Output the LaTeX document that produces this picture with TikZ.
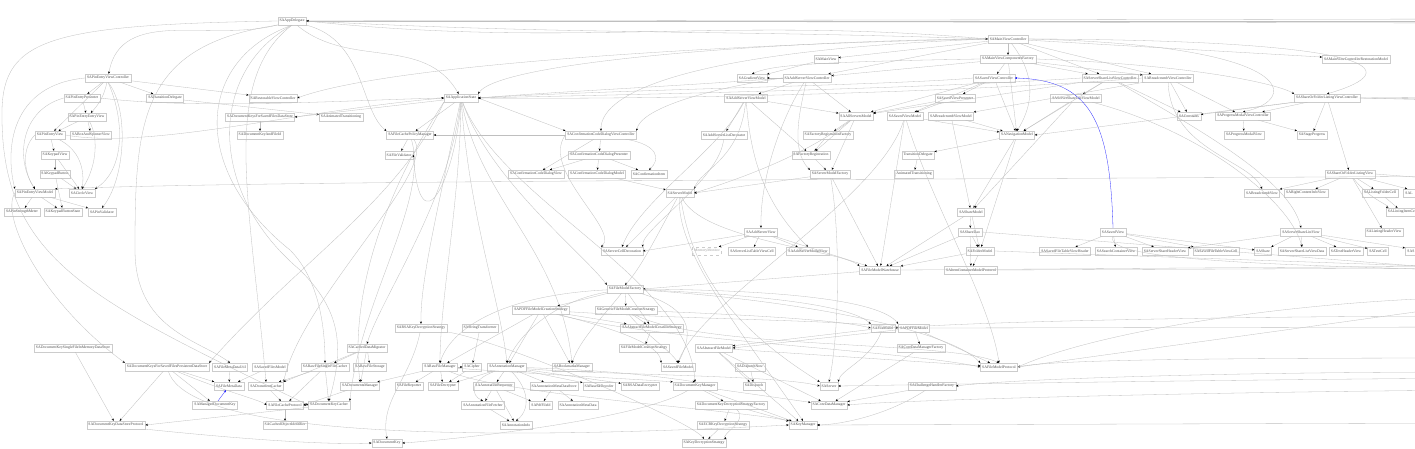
\documentclass[tikz,border=0pt]{standalone}
\usepackage{fontspec}
\setmainfont{Liberation Serif}
\usetikzlibrary{arrows.meta}
\tikzset{
  box/.style={draw=gray!40, line width=0.3pt, font=\fontsize{3.8}{4}\selectfont, text=black!70, inner xsep=1.8pt, inner ysep=0pt, minimum height=8pt},
  dbox/.style={box, dashed, draw=gray!40, text=gray!75},
  e/.style={draw=gray!50, line width=0.3pt, -{Stealth[length=2.4pt,width=2pt,color=black]}},
  bb/.style={e, -{Stealth[length=2.4pt,width=2pt,color=blue]}, {Stealth[length=2.4pt,width=2pt,color=blue]}-, draw=blue!85}
}
\begin{document}
\begin{tikzpicture}[x=1pt,y=-1pt]
\useasboundingbox (0,0) rectangle (1415,449);
\fill[white] (0,0) rectangle (1415,449);
\clip (0,0) rectangle (1415,449);
% ---------- nodes ----------
\node[box] (AD) at (292,21) {SAAppDelegate};
\node[box] (MVC) at (1008,39) {SAMainViewController};
\node[box] (MV) at (826,59) {SAMainView};
\node[box] (MVCF) at (1008,59) {SAMainViewComponentsFactory};
\node[box] (MVCRM) at (1356,59) {SAMainViewControllerRestorationModel};
\node[box] (GV) at (752,78) {SAGradientView};
\node[box] (ASVC) at (807,78) {SAAddServerViewController};
\node[box] (SVC) at (994,78) {SASavedViewController};
\node[box] (SSLVC) at (1110,78) {SAServerShareListViewController};
\node[box] (BVC) at (1168,78) {SABreadcrumbViewController};
\node[box] (PEVC) at (108,78) {SAPinEntryViewController};
\node[box] (PEP) at (82,98) {SAPinEntryPresenter};
\node[box] (TD) at (165,98) {SATransitionDelegate};
\node[box] (RVC) at (273,98) {SARestorableViewController};
\node[box] (AS) at (461,98) {SAApplicationState};
\node[box] (ASVM) at (746,98) {SAAddServerViewModel};
\node[box] (SVP) at (955,98) {SASavedViewPresenter};
\node[box] (SSLVM) at (1076,98) {SAServerShareListViewModel};
\node[box] (SOFLVC) at (1327,98) {SAShareOrFolderListingViewController};
\node[box] (PEEV) at (87,117) {SAPinEntryEntryView};
\node[box] (DKSFDS) at (260,117) {SADocumentKeysForSavedFilesDataStore};
\node[box] (AT) at (341,117) {SAAnimatedTransitioning};
\node[box] (ALSM) at (856,116) {SAAllServersModel};
\node[box] (SVM) at (905,116) {SASavedViewModel};
\node[box] (BVM) at (951,116) {SABreadcrumbViewModel};
\node[box] (CONST) at (1189,116) {SAConstants};
\node[box] (PMVC) at (1243,116) {SAProgressModalViewController};
\node[box] (PEV) at (50,135) {SAPinEntryView};
\node[box] (BASV) at (91,135) {SABoxAndSpinnerView};
\node[box] (DKAFI) at (260,135) {SADocumentKeyAndFileId};
\node[box] (FCPM) at (410,135) {SAFileCachePolicyManager};
\node[box] (CCDVC) at (601,135) {SAConfirmationCodeDialogViewController};
\node[box] (ASLD) at (724,135) {SAAddServerListDecorator};
\node[box] (FRF) at (828,135) {SAFactoryRegistrationFactory};
\node[box] (NM) at (1017,135) {SANavigationModel};
\node[box] (PMV) at (1244,135) {SAProgressModalView};
\node[box] (SP) at (1312,135) {SAStageProgress};
\node[box] (KV) at (55,155) {SAKeypadView};
\node[box] (FV) at (399,155) {SAFileValidator};
\node[box] (CCDP) at (599,155) {SAConfirmationCodeDialogPresenter};
\node[box] (FR) at (811,155) {SAFactoryRegistration};
\node[box] (TD2) at (918,155) {TransitionDelegate};
\node[box] (KB) at (55,174) {SAKeypadButton};
\node[box] (CCDV) at (536,174) {SAConfirmationCodeDialogView};
\node[box] (CCDM) at (597,174) {SAConfirmationCodeDialogModel};
\node[box] (CI) at (649,174) {SAConfirmationItem};
\node[box] (SMF) at (830,174) {SAServerModelFactory};
\node[box] (AT2) at (914,174) {AnimatedTransitioning};
\node[box] (SOFLV) at (1350,174) {SAShareOrFolderListingView};
\node[box] (PEVM) at (35,193) {SAPinEntryViewModel};
\node[box] (CV) at (82,193) {SACircleView};
\node[box] (SM) at (680,193) {SAServerModel};
\node[box] (BV) at (1262,193) {SABreadcrumbView};
\node[box] (RCIV) at (1306,193) {SARightContentInfoView};
\node[box] (LFC) at (1380,193) {SAListingFolderCell};
\node[box,anchor=west,minimum width=40pt] (SAL) at (1403,193) {};
\node[box,draw=none,anchor=west] at (1403.5,193) {SAL};
\node[box] (PSM) at (22,212) {SAPinStrengthMeter};
\node[box] (KBS) at (63,212) {SAKeypadButtonState};
\node[box] (PV) at (102,212) {SAPinValidator};
\node[box] (ShM) at (971,212) {SAShareModel};
\node[box,anchor=west] (LIC) at (1386,212) {SAListingItemCell};
\node[box] (ASV) at (761,232) {SAAddServerView};
\node[box] (SD) at (970,232) {SAShareDao};
\node[box] (SV) at (1113,232) {SASavedView};
\node[box] (SSLV) at (1301,232) {SAServerShareListView};
\node[box] (LHV) at (1384,232) {SAListingHeaderView};
\node[box] (SCD) at (622,251) {SAServerCellDecoration};
\node[dbox] (MM) at (707,251) {MemoryMonitor};
\node[box] (SLTVC) at (752,251) {SAServerListTableViewCell};
\node[box] (ASMV) at (808,251) {SAAddServerModalView};
\node[box] (FM) at (980,251) {SAFolderModel};
\node[box] (SFTVH) at (1065,251) {SASavedFileTableViewHeader};
\node[box] (SCV) at (1116,251) {SASearchContainerView};
\node[box] (SSHV) at (1165,251) {SAServerShareHeaderView};
\node[box] (SFTVC) at (1216,251) {SASavedFileTableViewCell};
\node[box] (Sh) at (1263,251) {SAShare};
\node[box] (SSLVD) at (1302,251) {SAServerShareListViewData};
\node[box] (THV) at (1346,251) {SATextHeaderView};
\node[box] (TC) at (1378,251) {SATextCell};
\node[box,anchor=west,minimum width=40pt] (SAS) at (1405,251) {};
\node[box,draw=none,anchor=west] at (1405.5,251) {SAS};
\node[box] (FMW) at (880,270) {SAFileModelWarehouse};
\node[box] (ICMP) at (971,270) {SAItemContainerModelProtocol};
\node[box] (FMF) at (625,289) {SAFileModelFactory};
\node[box] (PDFFMCS) at (541,310) {SAPDFFileModelCreationStrategy};
\node[box] (GFMCS) at (626,310) {SAGenericFileModelCreationStrategy};
\node[box] (FMo) at (883,328) {SAFileModel};
\node[box] (PDFFM) at (914,328) {SAPDFFileModel};
\node[box] (RSAKDS) at (421,328) {SARSAKeyDecryptionStrategy};
\node[box] (ST) at (480,328) {SAStringTransformer};
\node[box] (AFMCS) at (652,328) {SAAbstractFileModelCreationStrategy};
\node[box] (DKSFIMDS) at (73,348) {SADocumentKeySingleFileInMemoryDataStore};
\node[box] (CDM) at (367,348) {SACachedDataMigrator};
\node[box] (FMCS) at (644,348) {SAFileModelCreationStrategy};
\node[box] (AFM) at (714,348) {SAAbstractFileModel};
\node[box] (CDMF) at (921,348) {SACoreDataManagerFactory};
\node[box] (DKSFPDS) at (167,367) {SADocumentKeysForSavedFilesPersistentDataStore};
\node[box] (FMDU) at (230,367) {SAFileMetaDataUtil};
\node[box] (SFM) at (270,367) {SASavedFilesModel};
\node[box] (RFSFC) at (325,367) {SARawFileSingleFileCacher};
\node[box] (RFS) at (370,367) {SARawFileStorage};
\node[box] (RFM) at (440,367) {SARawFileManager};
\node[box] (Ci) at (472,367) {SACipher};
\node[box] (AnM) at (507,367) {SAAnnotationManager};
\node[box] (BM) at (572,367) {SABookmarksManager};
\node[box] (SFMo) at (678,367) {SASavedFileModel};
\node[box] (DN) at (750,367) {SADispatchNow};
\node[box] (FMP) at (999,367) {SAFileModelProtocol};
\node[box] (FMD) at (229,386) {SAFileMetaData};
\node[box] (DC) at (266,386) {SADocumentCacher};
\node[box] (DM) at (360,386) {SADocumentsManager};
\node[box] (FRep) at (409,386) {SAFileReporter};
\node[box] (FD) at (443,386) {SAFileDecrypter};
\node[box] (AR) at (494,386) {SAAnnotationRequester};
\node[box] (AMDS) at (554,386) {SAAnnotationMetaDataStore};
\node[box] (B64) at (599,386) {SABase64Decoder};
\node[box] (RSADE) at (640,386) {SARSADataEncrypter};
\node[box] (DKM) at (695,386) {SADocumentKeyManager};
\node[box] (Di) at (754,386) {SADispatch};
\node[box] (Se) at (829,386) {SAServer};
\node[box] (CHF) at (932,386) {SAChallengeHandlerFactory};
\node[box] (MDK) at (215,405) {SAManagedDocumentKey};
\node[box] (FCP) at (285,405) {SAFileCacheProtocol};
\node[box] (DKC) at (329,405) {SADocumentKeyCacher};
\node[box] (AFF) at (483,405) {SAAnnotationFileFetcher};
\node[box] (PFI) at (541,405) {SAPdfFileId};
\node[box] (AMD) at (578,405) {SAAnnotationMetaData};
\node[box] (DKDSF) at (731,405) {SADocumentKeyDecryptionStrategyFactory};
\node[box] (CoDM) at (829,405) {SACoreDataManager};
\node[box] (DKDSP) at (116,425) {SADocumentKeyDataStoreProtocol};
\node[box] (COI) at (285,425) {SACachedObjectIdentifier};
\node[box] (AI) at (516,425) {SAAnnotationInfo};
\node[box] (ECB) at (723,425) {SAECBKeyDecryptionStrategy};
\node[box] (KM) at (803,425) {SAKeyManager};
\node[box] (DK) at (387,443) {SADocumentKey};
\node[box] (KDS) at (704,443) {SAKeyDecryptionStrategy};
% off-picture ends
\coordinate (rA) at (1480,19); \coordinate (rB) at (1480,21); \coordinate (rC) at (1480,23);
\coordinate (rE) at (1480,97); \coordinate (rF) at (1480,99); \coordinate (rG) at (1480,101);
\coordinate (rH) at (1480,176); \coordinate (rI) at (1480,182);
\coordinate (rJ) at (1480,266); \coordinate (rK) at (1480,268); \coordinate (rL) at (1480,271);
\coordinate (rM) at (1480,327); \coordinate (rN) at (1480,358); \coordinate (rO) at (1480,372);
\coordinate (rP) at (1480,390); \coordinate (rQ) at (1480,423); \coordinate (rR) at (1480,297);
\coordinate (rS) at (1480,303); \coordinate (rT) at (1480,316); \coordinate (rU) at (1480,378);
% ---------- edges ----------
\draw[e] (rA) -- (AD.east);
\draw[e] (rB) -- (AD.east);
\draw[e] (rC) -- (AD.east);
\draw[e] (AD.east) to[out=-3,in=178] (MVC.west);
\draw[e] (AD.east) to[out=-6,in=175] (MVC.west);
\draw[e] (AD) to[out=195,in=80] (PEVC);
\draw[e] (AD) to[out=-40,in=120] (AS);
\draw[e] (AD.south east) .. controls (365,40) and (360,110) .. (FCPM.north west);
\draw[e] (AD.south west) .. controls (140,45) and (135,120) .. (135,250) .. controls (135,330) and (200,340) .. (FMDU.north);
\draw[e] (AD.south) .. controls (195,60) and (190,170) .. (290,250) .. controls (320,280) and (325,330) .. (RFSFC.north);
\draw[e] (AD.south) .. controls (210,70) and (205,190) .. (300,270) .. controls (340,310) and (345,345) .. (DKC.north);
\draw[e] (AD.west) .. controls (40,25) and (0,40) .. (2,120) .. controls (4,260) and (90,300) .. (DKC.west);
\draw[e] (AD.south) .. controls (220,80) and (250,200) .. (DC.north);
% pin entry cluster
\draw[e] (PEVC) -- (PEP);
\draw[e] (PEVC) to[bend left=15] (PEEV);
\draw[e] (PEVC) -- (PEV);
\draw[e] (PEVC) -- (TD);
\draw[e] (PEVC) -- (RVC);
\draw[e] (PEVC.west) .. controls (10,85) and (5,150) .. (PEVM.north west);
\draw[e] (PEVC.south) .. controls (125,120) and (125,170) .. (CV.north east);
\draw[e] (PEVC.south) .. controls (130,110) and (125,180) .. (PV.north);
\draw[e] (PEP) -- (PEEV);
\draw[e] (PEP.west) .. controls (20,110) and (15,160) .. (PEVM.north);
\draw[e] (PEP.east) .. controls (200,110) and (350,100) .. (AS.west);
\draw[e] (PEEV) -- (PEV);
\draw[e] (PEEV) -- (BASV);
\draw[e] (PEEV) .. controls (100,140) and (95,170) .. (CV.north);
\draw[e] (PEV) -- (KV);
\draw[e] (PEV) .. controls (80,150) and (85,170) .. (CV.north);
\draw[e] (PEV.west) .. controls (20,150) and (25,175) .. (PEVM.north);
\draw[e] (PEV.east) .. controls (150,150) and (300,110) .. (AS.west);
\draw[e] (KV) -- (KB);
\draw[e] (KV) -- (CV);
\draw[e] (KB) -- (CV);
\draw[e] (KB) -- (KBS);
\draw[e] (PEVM) -- (PSM);
\draw[e] (PEVM) -- (KBS);
\draw[e] (PEVM) -- (PV);
\draw[e] (PEVM.west) .. controls (0,215) and (40,300) .. (DKSFPDS.north west);
\draw[e] (TD) -- (AT);
\draw[e] (DKSFDS) -- (DKAFI);
\draw[e] (rH) .. controls (900,180) and (300,180) .. (PEVM.north east);
% application state
\draw[e] (AS) -- (DKSFDS.east);
\draw[e] (AS) -- (FCPM);
\draw[e] (AS.east) -- (CCDVC.north west);
\draw[e] (AS.south west) .. controls (400,200) and (300,260) .. (DKSFPDS.north east);
\draw[e] (AS) .. controls (440,200) and (420,280) .. (RSAKDS.north);
\draw[e] (AS) .. controls (450,200) and (380,300) .. (CDM.north);
\draw[e] (AS) .. controls (460,200) and (440,300) .. (RFM.north);
\draw[e] (AS) .. controls (470,220) and (500,300) .. (AnM.north);
\draw[e] (AS) .. controls (480,200) and (560,250) .. (BM.north);
\draw[e] (AS) .. controls (490,180) and (580,250) .. (FMF.north west);
\draw[e] (AS) .. controls (500,200) and (690,280) .. (DKM.north);
\draw[e] (AS.south west) .. controls (380,200) and (350,300) .. (DM.north);
\draw[e] (AS.south) .. controls (455,180) and (420,250) .. (FV.east);
\draw[e] (FCPM) -- (FV);
\draw[e] (FCPM) .. controls (440,170) and (300,300) .. (DC.north east);
\draw[e] (FCPM) .. controls (430,200) and (360,300) .. (DKC.north east);
\draw[e] (CCDVC) -- (FCPM);
\draw[e] (CCDVC) -- (CCDP);
\draw[e] (CCDVC) -- (CCDV);
\draw[e] (CCDVC) .. controls (660,145) and (660,160) .. (CI.north);
\draw[e] (CCDVC.west) .. controls (540,170) and (620,230) .. (SCD.north west);
\draw[e] (CCDP) -- (CCDV);
\draw[e] (CCDP) -- (CCDM);
\draw[e] (CCDP) -- (CI);
\draw[e] (CCDM) -- (SM);
\draw[e] (SM) -- (SCD);
\draw[e] (SM) .. controls (660,230) and (640,270) .. (FMF.north);
\draw[e] (SM) .. controls (700,240) and (840,250) .. (FMW.north west);
\draw[e] (SM) .. controls (690,260) and (720,320) .. (Se.north west);
\draw[e] (SM) .. controls (675,250) and (740,330) .. (KM.north);
% main view controller
\draw[e] (MVC) -- (MV);
\draw[e] (MVC) -- (MVCF);
\draw[e] (MVC.west) .. controls (800,40) and (500,60) .. (AS.north east);
\draw[e] (MVC.west) .. controls (800,42) and (400,60) .. (RVC.east);
\draw[e] (MVC) -- (ASVC);
\draw[e] (MVC) -- (SSLVC);
\draw[e] (MVC) -- (BVC);
\draw[e] (MVC) -- (MVCRM);
\draw[e] (MVC.east) .. controls (1380,40) and (1410,70) .. (SOFLVC.north);
\draw[e] (MVC.east) .. controls (1300,45) and (1300,100) .. (PMVC.north);
\draw[e] (MVC) .. controls (1040,80) and (1030,110) .. (NM.north);
\draw[e] (MVC.west) .. controls (700,50) and (600,90) .. (CCDVC.north);
\draw[e] (MV) -- (GV);
\draw[e] (MVCF) -- (ASVC);
\draw[e] (MVCF) -- (SVC);
\draw[e] (MVCF) -- (SSLVC);
\draw[e] (MVCF) -- (BVC);
\draw[e] (MVCF.east) .. controls (1200,65) and (1280,85) .. (SOFLVC.north west);
\draw[e] (MVCF) -- (NM);
\draw[e] (MVCF.west) .. controls (800,62) and (770,66) .. (GV.north);
% add server
\draw[e] (ASVC) -- (ASVM);
\draw[e] (ASVC) -- (ALSM);
\draw[e] (ASVC) -- (GV);
\draw[e] (ASVC) .. controls (780,120) and (760,180) .. (ASV.north);
\draw[e] (ASVC) .. controls (800,110) and (790,150) .. (SMF.north west);
\draw[e] (ASVC.west) .. controls (700,90) and (640,110) .. (CCDVC.north east);
\draw[e] (ASVC.west) .. controls (700,85) and (550,92) .. (AS.east);
\draw[e] (ASVM) -- (ASLD);
\draw[e] (ASVM) -- (ALSM);
\draw[e] (ASVM) -- (FR);
\draw[e] (ASVM) .. controls (750,150) and (760,200) .. (ASMV.north);
\draw[e] (ASVM) .. controls (740,160) and (700,170) .. (SM.north east);
\draw[e] (ASVM) .. controls (720,150) and (640,200) .. (SCD.north);
\draw[e] (ASLD) .. controls (720,180) and (640,230) .. (SCD.north east);
\draw[e] (ASV) -- (SLTVC);
\draw[e] (ASV) -- (ASMV);
\draw[e] (ASV) -- (MM);
\draw[e] (ASV) -- (SCD.east);
\draw[e] (ASV) -- (FMW);
\draw[e] (ALSM) -- (FRF);
\draw[e] (ALSM) -- (FR);
\draw[e] (ALSM) -- (SMF);
\draw[e] (ALSM) .. controls (800,160) and (720,185) .. (SM.east);
\draw[e] (FRF) -- (FR);
\draw[e] (FR) -- (SMF);
\draw[e] (SMF) -- (SM.east);
\draw[e] (SMF) -- (FMW);
\draw[e] (SMF) .. controls (840,230) and (840,330) .. (Se.north);
% saved
\draw[e] (SVC) -- (SVP);
\draw[e] (SVC) -- (SVM);
\draw[e] (SVC) -- (ALSM);
\draw[e] (SVC) -- (NM);
\draw[bb] (SVC.east) .. controls (1090,80) and (1110,120) .. (SV.north);
\draw[e] (SVC.west) .. controls (900,85) and (600,90) .. (AS.east);
\draw[e] (SVP) -- (SVM);
\draw[e] (SVP) -- (ALSM);
\draw[e] (SVM) -- (NM);
\draw[e] (SVM) -- (FMW);
\draw[e] (SVM) .. controls (930,200) and (990,300) .. (FMP.north);
\draw[e] (SVM) .. controls (880,200) and (700,300) .. (SFMo.north);
% share list
\draw[e] (SSLVC) -- (SSLVM);
\draw[e] (SSLVC) -- (ALSM);
\draw[e] (SSLVC) -- (NM);
\draw[e] (SSLVC) -- (CONST);
\draw[e] (SSLVC) .. controls (1200,130) and (1290,180) .. (SSLV.north);
\draw[e] (SSLVC.west) .. controls (900,90) and (600,95) .. (AS.east);
\draw[e] (SSLVM) -- (NM);
\draw[e] (SSLVM) -- (ShM);
\draw[e] (SSLVM) .. controls (1200,130) and (1290,200) .. (SSLVD.north);
% breadcrumb
\draw[e] (BVC) -- (BVM);
\draw[e] (BVC) -- (CONST);
\draw[e] (BVC) -- (PMVC);
\draw[e] (BVC) .. controls (1170,150) and (1250,160) .. (BV.north);
\draw[e] (BVC.west) .. controls (1000,90) and (700,100) .. (AS.east);
\draw[e] (BVM) -- (NM);
\draw[e] (BVM) -- (ShM);
% listing
\draw[e] (SOFLVC) -- (CONST);
\draw[e] (SOFLVC) -- (PMVC);
\draw[e] (SOFLVC) -- (SOFLV);
\draw[e] (SOFLVC) -- (NM.east);
\draw[e] (SOFLVC) -- (SP);
\draw[e] (SOFLVC.east) -- (rE);
\draw[e] (SOFLVC.east) -- (rF);
\draw[e] (SOFLVC.east) -- (rG);
\draw[e] (PMVC) -- (PMV);
\draw[e] (PMVC) -- (SP);
\draw[e] (SOFLV) -- (BV);
\draw[e] (SOFLV) -- (RCIV);
\draw[e] (SOFLV) -- (LFC);
\draw[e] (SOFLV) -- (SAL);
\draw[e] (SOFLV) -- (LHV);
\draw[e] (SOFLV) .. controls (1370,200) and (1390,205) .. (LIC.north west);
\draw[e] (SOFLV.east) -- (rI);
\draw[e] (LFC) -- (LIC);
% navigation / shares
\draw[e] (NM) -- (ShM);
\draw[e] (NM) -- (FM);
\draw[e] (NM) -- (TD2);
\draw[e] (TD2) -- (AT2);
\draw[e] (ShM) -- (SD);
\draw[e] (ShM) -- (FMW);
\draw[e] (ShM) -- (FM);
\draw[e] (SD) -- (FM);
\draw[e] (SD) -- (ICMP);
\draw[e] (SD) -- (FMW);
\draw[e] (FM) -- (ICMP);
\draw[e] (FM) -- (FMW);
\draw[e] (FMW) -- (FMF.east);
\draw[e] (FMW.east) -- (rJ);
\draw[e] (ICMP.east) -- (rK);
\draw[e] (SD.east) -- (rL);
\draw[e] (FM.east) -- (rK);
% saved view
\draw[e] (SV) -- (SFTVH);
\draw[e] (SV) -- (SCV);
\draw[e] (SV) -- (SSHV);
\draw[e] (SV) -- (SFTVC);
\draw[e] (SV) -- (Sh);
\draw[e] (SV.south) .. controls (1100,262) and (1300,265) .. (rL);
\draw[e] (SSLV) -- (Sh);
\draw[e] (SSLV) -- (SSLVD);
\draw[e] (SSLV) -- (THV);
\draw[e] (SSLV) -- (TC);
\draw[e] (SSLV) -- (SSHV);
\draw[e] (SSLV) -- (SAS);
% file model factory
\draw[e] (FMF) -- (PDFFMCS);
\draw[e] (FMF) -- (GFMCS);
\draw[e] (FMF) -- (AFMCS);
\draw[e] (FMF) .. controls (760,295) and (850,305) .. (FMo.north west);
\draw[e] (FMF) .. controls (780,290) and (880,300) .. (PDFFM.north west);
\draw[e] (FMF) .. controls (700,310) and (690,340) .. (SFMo.north);
\draw[e] (FMF) .. controls (800,300) and (950,330) .. (FMP.north west);
\draw[e] (FMF) .. controls (600,320) and (580,340) .. (BM.north);
\draw[e] (FMF) .. controls (560,300) and (520,330) .. (AnM.north);
\draw[e] (FMF) .. controls (500,295) and (450,330) .. (RFM.north);
\draw[e] (PDFFMCS) -- (AFMCS);
\draw[e] (PDFFMCS) -- (RFM);
\draw[e] (PDFFMCS) -- (AnM);
\draw[e] (PDFFMCS) -- (BM);
\draw[e] (PDFFMCS) .. controls (700,320) and (850,320) .. (PDFFM.west);
\draw[e] (PDFFMCS) .. controls (650,340) and (900,350) .. (FMP.west);
\draw[e] (PDFFMCS) .. controls (620,330) and (660,345) .. (SFMo.north west);
\draw[e] (GFMCS) -- (AFMCS);
\draw[e] (GFMCS) .. controls (750,315) and (840,320) .. (FMo.west);
\draw[e] (GFMCS) .. controls (640,330) and (670,350) .. (SFMo.north);
\draw[e] (GFMCS) .. controls (700,350) and (950,340) .. (FMP.north);
\draw[e] (AFMCS) -- (FMCS);
\draw[e] (FMo) -- (AFM);
\draw[e] (PDFFM) -- (AFM.east);
\draw[e] (PDFFM) -- (FMP);
\draw[e] (PDFFM) -- (CDMF);
\draw[e] (PDFFM.east) -- (rM);
\draw[e] (AFM) -- (FMP);
\draw[e] (AFM) -- (KM);
\draw[e] (AFM) -- (Di);
\draw[e] (AFM) -- (CoDM);
\draw[e] (FMo) .. controls (870,360) and (840,370) .. (Se.north east);
\draw[e] (CDMF) -- (CoDM);
\draw[e] (CHF) -- (CoDM);
\draw[e] (CHF) .. controls (880,420) and (830,425) .. (KM.east);
\draw[e] (DN) -- (Di);
\draw[e] (rN) .. controls (1200,358) and (1050,360) .. (FMP.east);
\draw[e] (rO) .. controls (1200,372) and (1000,380) .. (CHF.east);
\draw[e] (rP) .. controls (1200,392) and (900,400) .. (CoDM.east);
\draw[e] (rQ) -- (KM.east);
\draw[e] (rU) .. controls (1200,380) and (900,385) .. (Se.east);
\draw[e] (FMP.east) .. controls (1100,330) and (1300,300) .. (rR);
\draw[e] (FMP.east) -- (rS);
\draw[e] (FMo.east) .. controls (1000,320) and (1300,316) .. (rT);
% raw files and annotations
\draw[e] (RFM) -- (FRep);
\draw[e] (RFM) -- (FD);
\draw[e] (RFM) -- (DM);
\draw[e] (RFM) -- (Ci);
\draw[e] (RFM) .. controls (550,375) and (650,380) .. (DKM.north west);
\draw[e] (RFM) .. controls (500,395) and (740,410) .. (KM.north west);
\draw[e] (Ci) -- (FD);
\draw[e] (ST) -- (Ci);
\draw[e] (AnM) -- (AR);
\draw[e] (AnM) -- (AMDS);
\draw[e] (AnM) -- (B64);
\draw[e] (AnM) -- (RSADE);
\draw[e] (AnM) -- (FD);
\draw[e] (AnM) .. controls (470,380) and (470,395) .. (AFF.north);
\draw[e] (AnM) .. controls (530,390) and (530,410) .. (AI.north);
\draw[e] (AnM) .. controls (600,370) and (650,375) .. (DKM.north);
\draw[e] (AnM) .. controls (600,375) and (780,375) .. (Se.west);
\draw[e] (AR) -- (AFF);
\draw[e] (AR) -- (PFI);
\draw[e] (AR) -- (AI);
\draw[e] (AMDS) -- (PFI);
\draw[e] (AMDS) -- (AMD);
\draw[e] (AFF) -- (AI);
\draw[e] (DKM) -- (DKDSF);
\draw[e] (DKM) -- (KM);
\draw[e] (DKM) -- (CoDM);
\draw[e] (DKM) .. controls (640,420) and (450,440) .. (DK.east);
\draw[e] (DKDSF) -- (ECB);
\draw[e] (DKDSF) .. controls (750,420) and (720,435) .. (KDS.north east);
\draw[e] (DKDSF) -- (KM);
\draw[e] (ECB) -- (KDS);
\draw[e] (RSAKDS) .. controls (410,380) and (380,400) .. (DK.north);
\draw[e] (RSAKDS) .. controls (500,340) and (690,420) .. (KDS.north);
% caching
\draw[e] (CDM) -- (RFS);
\draw[e] (CDM) -- (DM);
\draw[e] (CDM) -- (RFSFC);
\draw[e] (CDM) -- (DC.north east);
\draw[e] (RFSFC) -- (FCP);
\draw[e] (RFSFC) -- (DKC);
\draw[e] (RFSFC) -- (DC);
\draw[e] (DC) -- (FCP);
\draw[e] (FCP) -- (COI);
\draw[e] (DKC) -- (FCP);
\draw[e] (DKC) -- (DKDSP.east);
\draw[e] (DM) -- (FCP.east);
\draw[e] (FMDU) -- (FMD);
\draw[e] (SFM) -- (FMD);
\draw[bb] (FMD) -- (MDK);
\draw[e] (DKSFPDS) -- (DKDSP);
\draw[e] (DKSFPDS) -- (MDK);
\draw[e] (DKSFPDS) -- (FMD.north west);
\draw[e] (DKSFPDS) .. controls (220,390) and (260,400) .. (FCP.west);
\draw[e] (DKSFPDS) .. controls (190,440) and (500,440) .. (KM.west);
\draw[e] (DKSFIMDS) -- (DKDSP);
\draw[e] (DKDSP.south east) .. controls (250,440) and (330,445) .. (DK.west);
\end{tikzpicture}
\end{document}
